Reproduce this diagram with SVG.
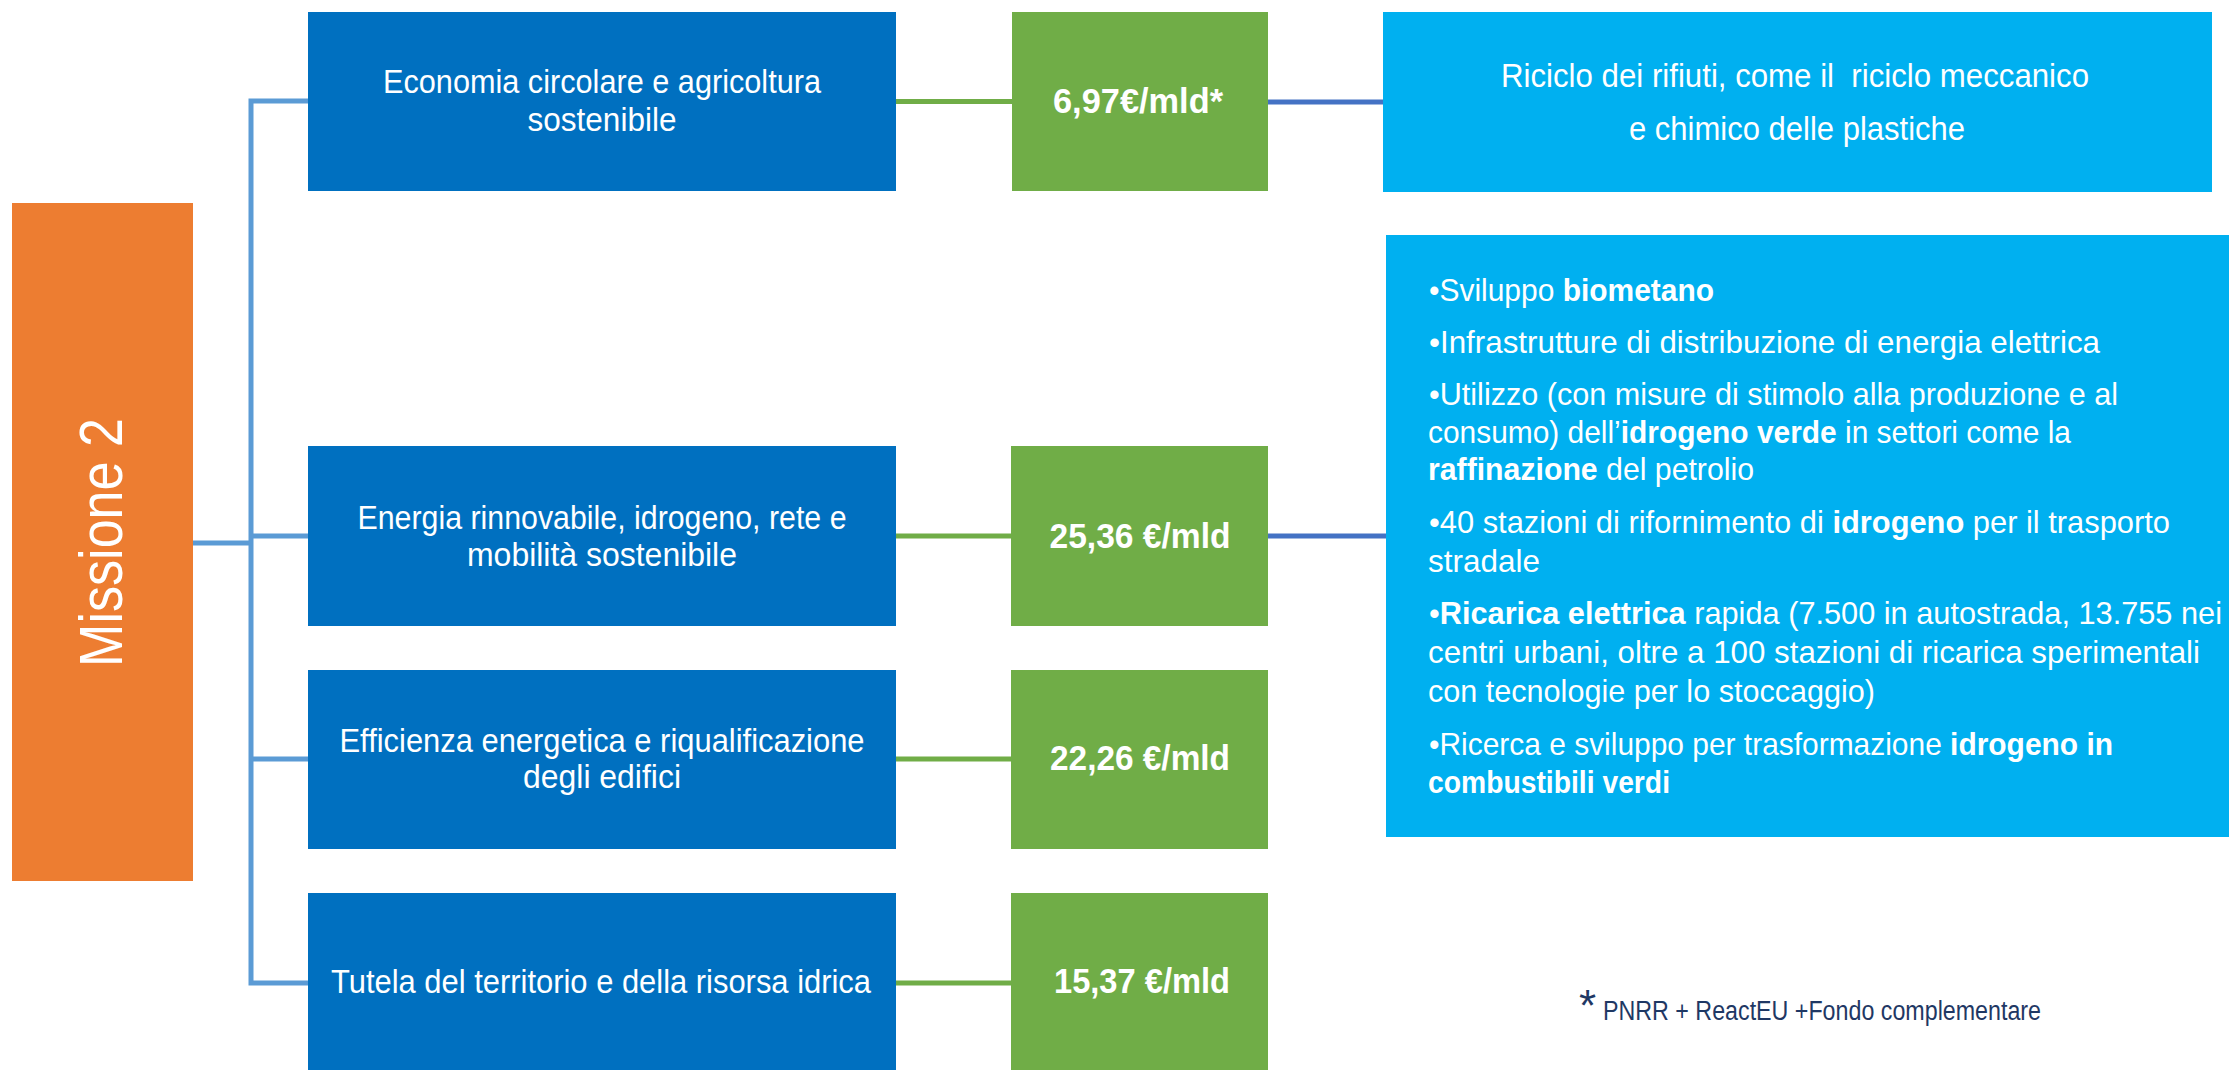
<svg xmlns="http://www.w3.org/2000/svg" width="2229" height="1070" viewBox="0 0 2229 1070">
<style>
.bg{fill:#ffffff}
.blue{fill:#0070C0}
.green{fill:#70AD47}
.cyan{fill:#00B0F0}
.orange{fill:#ED7D31}
.t{font-family:"Liberation Sans",Arial,sans-serif;fill:#ffffff}
.box{font-size:33px;text-anchor:middle}
.amt{font-size:35px;font-weight:bold;text-anchor:middle}
.bul{font-size:32px}
.b{font-weight:bold}
.lc{stroke:#5B9BD5;stroke-width:5;fill:none}
.gc{stroke:#70AD47;stroke-width:5;fill:none}
.rc{stroke:#4472C4;stroke-width:5;fill:none}
.note{font-family:"Liberation Sans",Arial,sans-serif;fill:#1F3864}
</style>
<rect class="bg" x="0" y="0" width="2229" height="1070"/>

<g id="connectors">
  <path class="lc" d="M308,101 H251 V983 H308"/>
  <path class="lc" d="M193,543 H251"/>
  <path class="lc" d="M251,536 H308"/>
  <path class="lc" d="M251,759 H308"/>
  <path class="gc" d="M896,101.5 H1012"/>
  <path class="gc" d="M896,536 H1011"/>
  <path class="gc" d="M896,759 H1011"/>
  <path class="gc" d="M896,983 H1011"/>
  <path class="rc" d="M1268,102 H1383"/>
  <path class="rc" d="M1268,536 H1386"/>
</g>

<g id="missione">
  <rect class="orange" x="12" y="203" width="181" height="678"/>
  <text class="t" transform="translate(122,542.5) rotate(-90)" font-size="61" text-anchor="middle" textLength="249" lengthAdjust="spacingAndGlyphs">Missione 2</text>
</g>

<g id="economia">
  <rect class="blue" x="308" y="12" width="588" height="179"/>
  <text class="t box" x="602" y="93" textLength="438" lengthAdjust="spacingAndGlyphs">Economia circolare e agricoltura</text>
  <text class="t box" x="602" y="131" textLength="149" lengthAdjust="spacingAndGlyphs">sostenibile</text>
</g>
<g id="energia">
  <rect class="blue" x="308" y="446" width="588" height="180"/>
  <text class="t box" x="602" y="529" textLength="489" lengthAdjust="spacingAndGlyphs">Energia rinnovabile, idrogeno, rete e</text>
  <text class="t box" x="602" y="566" textLength="270" lengthAdjust="spacingAndGlyphs">mobilità sostenibile</text>
</g>
<g id="efficienza">
  <rect class="blue" x="308" y="670" width="588" height="179"/>
  <text class="t box" x="602" y="752" textLength="525" lengthAdjust="spacingAndGlyphs">Efficienza energetica e riqualificazione</text>
  <text class="t box" x="602" y="788" textLength="158" lengthAdjust="spacingAndGlyphs">degli edifici</text>
</g>
<g id="tutela">
  <rect class="blue" x="308" y="893" width="588" height="180"/>
  <text class="t box" x="601" y="993" textLength="540" lengthAdjust="spacingAndGlyphs">Tutela del territorio e della risorsa idrica</text>
</g>

<g id="amt1">
  <rect class="green" x="1012" y="12" width="256" height="179"/>
  <text class="t amt" x="1138" y="113" textLength="170" lengthAdjust="spacingAndGlyphs">6,97€/mld*</text>
</g>
<g id="amt2">
  <rect class="green" x="1011" y="446" width="257" height="180"/>
  <text class="t amt" x="1140" y="548" textLength="181" lengthAdjust="spacingAndGlyphs">25,36 €/mld</text>
</g>
<g id="amt3">
  <rect class="green" x="1011" y="670" width="257" height="179"/>
  <text class="t amt" x="1140" y="770" textLength="180" lengthAdjust="spacingAndGlyphs">22,26 €/mld</text>
</g>
<g id="amt4">
  <rect class="green" x="1011" y="893" width="257" height="180"/>
  <text class="t amt" x="1142" y="993" textLength="176" lengthAdjust="spacingAndGlyphs">15,37 €/mld</text>
</g>

<g id="riciclo">
  <rect class="cyan" x="1383" y="12" width="829" height="180"/>
  <text class="t box" x="1795" y="87" textLength="588" lengthAdjust="spacingAndGlyphs" xml:space="preserve">Riciclo dei rifiuti, come il  riciclo meccanico</text>
  <text class="t box" x="1797" y="140" textLength="336" lengthAdjust="spacingAndGlyphs">e chimico delle plastiche</text>
</g>

<g id="dettagli">
  <rect class="cyan" x="1386" y="235" width="843" height="602"/>
  <text class="t bul" x="1429" y="301" textLength="285" lengthAdjust="spacingAndGlyphs">•Sviluppo <tspan class="b">biometano</tspan></text>
  <text class="t bul" x="1429" y="353" textLength="671" lengthAdjust="spacingAndGlyphs">•Infrastrutture di distribuzione di energia elettrica</text>
  <text class="t bul" x="1429" y="405" textLength="689" lengthAdjust="spacingAndGlyphs">•Utilizzo (con misure di stimolo alla produzione e al</text>
  <text class="t bul" x="1428" y="443" textLength="643" lengthAdjust="spacingAndGlyphs">consumo) dell’<tspan class="b">idrogeno verde</tspan> in settori come la</text>
  <text class="t bul" x="1428" y="480" textLength="326" lengthAdjust="spacingAndGlyphs"><tspan class="b">raffinazione</tspan> del petrolio</text>
  <text class="t bul" x="1429" y="533" textLength="741" lengthAdjust="spacingAndGlyphs">•40 stazioni di rifornimento di <tspan class="b">idrogeno</tspan> per il trasporto</text>
  <text class="t bul" x="1428" y="572" textLength="112" lengthAdjust="spacingAndGlyphs">stradale</text>
  <text class="t bul" x="1429" y="624" textLength="793" lengthAdjust="spacingAndGlyphs">•<tspan class="b">Ricarica elettrica</tspan> rapida (7.500 in autostrada, 13.755 nei</text>
  <text class="t bul" x="1428" y="663" textLength="772" lengthAdjust="spacingAndGlyphs">centri urbani, oltre a 100 stazioni di ricarica sperimentali</text>
  <text class="t bul" x="1428" y="702" textLength="447" lengthAdjust="spacingAndGlyphs">con tecnologie per lo stoccaggio)</text>
  <text class="t bul" x="1429" y="755" textLength="684" lengthAdjust="spacingAndGlyphs">•Ricerca e sviluppo per trasformazione <tspan class="b">idrogeno in</tspan></text>
  <text class="t bul b" x="1428" y="793" textLength="242" lengthAdjust="spacingAndGlyphs">combustibili verdi</text>
</g>

<g id="nota">
  <text class="note" x="1579" y="1021" font-size="44">*</text>
  <text class="note" x="1603" y="1020" font-size="27" textLength="438" lengthAdjust="spacingAndGlyphs">PNRR + ReactEU +Fondo complementare</text>
</g>
</svg>
